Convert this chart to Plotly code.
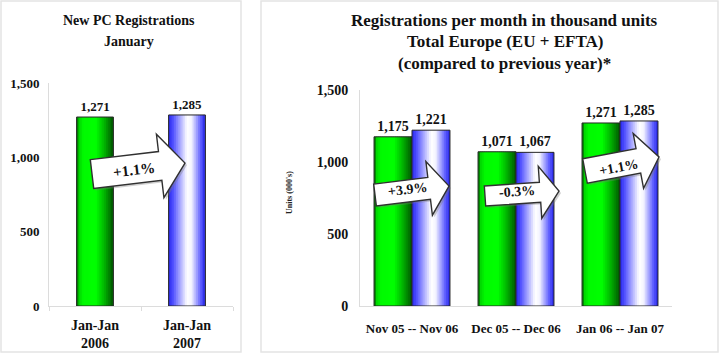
import math
import plotly.graph_objects as go

# ---------------- data ----------------
left_categories = ["Jan-Jan<br>2006", "Jan-Jan<br>2007"]
left_values = [1271, 1285]
left_change = "+1.1%"

right_categories = ["Nov 05 -- Nov 06", "Dec 05 -- Dec 06", "Jan 06 -- Jan 07"]
prev_year = [1175, 1071, 1271]
curr_year = [1221, 1067, 1285]
changes = ["+3.9%", "-0.3%", "+1.1%"]

y_tick_vals = [0, 500, 1000, 1500]
y_tick_text = ["0", "500", "1,000", "1,500"]

left_title = ["New PC Registrations", "January"]
right_title = ["Registrations per month in thousand units",
               "Total Europe (EU + EFTA)",
               "(compared to previous year)*"]
right_ytitle = "Units (000's)"

# ---------------- styling helpers ----------------
W, H = 720, 355
FONT = "Liberation Serif, Times New Roman, serif"

green_stops = [(0.0, (0, 90, 0)), (0.07, (0, 215, 0)), (0.18, (0, 250, 0)),
               (0.52, (0, 255, 0)), (0.74, (0, 185, 0)), (1.0, (0, 85, 0))]
blue_stops = [(0.0, (40, 40, 235)), (0.12, (80, 80, 255)), (0.5, (255, 255, 255)),
              (0.62, (245, 245, 255)), (0.88, (90, 90, 255)), (1.0, (40, 40, 230))]


def grad(stops, t):
    for (t0, c0), (t1, c1) in zip(stops[:-1], stops[1:]):
        if t0 <= t <= t1:
            f = (t - t0) / (t1 - t0) if t1 > t0 else 0
            c = [round(a + (b - a) * f) for a, b in zip(c0, c1)]
            return "rgb(%d,%d,%d)" % tuple(c)
    return "rgb(%d,%d,%d)" % stops[-1][1]


def px(x):
    return x / W


def py(y):
    return 1 - y / H


N = 20


def gradient_bars(fig, x, y, offset, width, stops, xa, ya, text_size):
    step = width / N
    for i in range(N):
        left = offset + i * step
        w = min(step * 1.7, offset + width - left)
        fig.add_trace(go.Bar(
            x=x, y=y, offset=left, width=w,
            marker=dict(color=grad(stops, (i + 0.5) / N), line=dict(width=0)),
            xaxis=xa, yaxis=ya, showlegend=False, hoverinfo="skip"))
    # outline + value labels
    fig.add_trace(go.Bar(
        x=x, y=y, offset=offset, width=width,
        marker=dict(color="rgba(0,0,0,0)", line=dict(color="#262626", width=1)),
        text=[f"{v:,}" for v in y], textposition="outside",
        textfont=dict(size=text_size, color="#111111", family=FONT, weight="bold"),
        cliponaxis=False, xaxis=xa, yaxis=ya, showlegend=False, hoverinfo="skip"))


fig = go.Figure()

gradient_bars(fig, [left_categories[0]], [left_values[0]], -0.2, 0.4, green_stops, "x", "y", 13)
gradient_bars(fig, [left_categories[1]], [left_values[1]], -0.2, 0.4, blue_stops, "x", "y", 13)

gradient_bars(fig, right_categories, prev_year, -0.365, 0.365, green_stops, "x2", "y2", 14)
gradient_bars(fig, right_categories, curr_year, 0.0, 0.365, blue_stops, "x2", "y2", 14)

shapes = []
annotations = []

shapes.append(dict(type="rect", xref="paper", yref="paper",
                   x0=px(1), x1=px(241), y0=py(352), y1=py(1),
                   line=dict(color="#e4e4e4", width=1.5), layer="below"))
shapes.append(dict(type="rect", xref="paper", yref="paper",
                   x0=px(261), x1=px(718), y0=py(352), y1=py(1),
                   line=dict(color="#e4e4e4", width=1.5), layer="below"))


def arrow_path(tail, tip, bh, hh, hl, dx=0.0, dy=0.0):
    tx, ty = tail[0] + dx, tail[1] + dy
    ex, ey = tip[0] + dx, tip[1] + dy
    L = math.hypot(ex - tx, ey - ty)
    ux, uy = (ex - tx) / L, (ey - ty) / L
    nx, ny = -uy, ux
    bx, by = ex - ux * hl, ey - uy * hl
    pts = [(tx - nx * bh, ty - ny * bh), (bx - nx * bh, by - ny * bh),
           (bx - nx * hh, by - ny * hh), (ex, ey),
           (bx + nx * hh, by + ny * hh), (bx + nx * bh, by + ny * bh),
           (tx + nx * bh, ty + ny * bh)]
    return "M " + " L ".join(f"{px(a):.5f},{py(b):.5f}" for a, b in pts) + " Z"


def text_ann(x, y, text, size, angle=0, color="#111111"):
    return dict(x=px(x), y=py(y), xref="paper", yref="paper",
                xanchor="center", yanchor="middle",
                text=text, showarrow=False, textangle=angle,
                font=dict(size=size, family=FONT, color=color, weight="bold"))


def add_arrow(tail, tip, bh, hh, hl, label, text_pos, size):
    shapes.append(dict(type="path", xref="paper", yref="paper",
                       path=arrow_path(tail, tip, bh, hh, hl, 2, 2),
                       fillcolor="rgba(120,120,120,0.35)", line=dict(width=0)))
    shapes.append(dict(type="path", xref="paper", yref="paper",
                       path=arrow_path(tail, tip, bh, hh, hl),
                       fillcolor="white", line=dict(color="#303030", width=1.4)))
    ang = math.degrees(math.atan2(tip[1] - tail[1], tip[0] - tail[0]))
    annotations.append(text_ann(text_pos[0], text_pos[1], label, size, ang))


add_arrow((92, 174), (185, 163), 14.5, 32, 25, left_change, (134, 170), 15)
add_arrow((375, 195), (449, 186), 11, 27, 20, changes[0], (407, 190), 14)
add_arrow((485, 196), (559, 191), 10, 26, 19, changes[1], (517, 192), 14)
add_arrow((585, 171), (659, 157), 12.5, 28, 21, changes[2], (618, 167), 14)

for i, line in enumerate(left_title):
    annotations.append(text_ann(129, 20 + 22 * i, line, 14))
for i, line in enumerate(right_title):
    annotations.append(text_ann(505, 20 + 22 * i, line, 17))
annotations.append(text_ann(289, 193, right_ytitle, 8, -90, "#222222"))

axis_line = "#dcdcdc"

fig.update_layout(
    width=W, height=H, autosize=False,
    margin=dict(l=0, r=0, t=0, b=0, pad=0, autoexpand=False),
    paper_bgcolor="white", plot_bgcolor="white",
    barmode="overlay", showlegend=False,
    font=dict(family=FONT, color="#111111", weight="bold"),
    shapes=shapes, annotations=annotations,
    xaxis=dict(domain=[px(49), px(233)], anchor="y", type="category", automargin=False,
               range=[-0.5, 1.5], showgrid=False, showline=True, linecolor=axis_line,
               ticks="outside", tickson="boundaries", ticklen=4, tickcolor=axis_line,
               ticklabelstandoff=6,
               tickfont=dict(size=14, family=FONT, weight="bold")),
    yaxis=dict(domain=[py(306), py(83)], anchor="x", range=[0, 1500], automargin=False,
               tickvals=y_tick_vals, ticktext=y_tick_text, showgrid=False,
               showline=True, linecolor=axis_line, zeroline=False,
               ticks="", ticklabelstandoff=6,
               tickfont=dict(size=13, family=FONT, weight="bold")),
    xaxis2=dict(domain=[px(360), px(672)], anchor="y2", type="category", automargin=False,
                range=[-0.5, 2.5], showgrid=False, showline=True, linecolor=axis_line,
                ticks="", ticklabelstandoff=10,
                tickfont=dict(size=13, family=FONT, weight="bold")),
    yaxis2=dict(domain=[py(306), py(90)], anchor="x2", range=[0, 1500], automargin=False,
                tickvals=y_tick_vals, ticktext=y_tick_text, showgrid=False,
                showline=True, linecolor=axis_line, zeroline=False,
                ticks="", ticklabelstandoff=8,
                tickfont=dict(size=14, family=FONT, weight="bold")),
)

fig.write_html("out.html", config={"responsive": False, "displayModeBar": False},
               post_script="document.body.style.margin='0';document.body.style.overflow='hidden';")
